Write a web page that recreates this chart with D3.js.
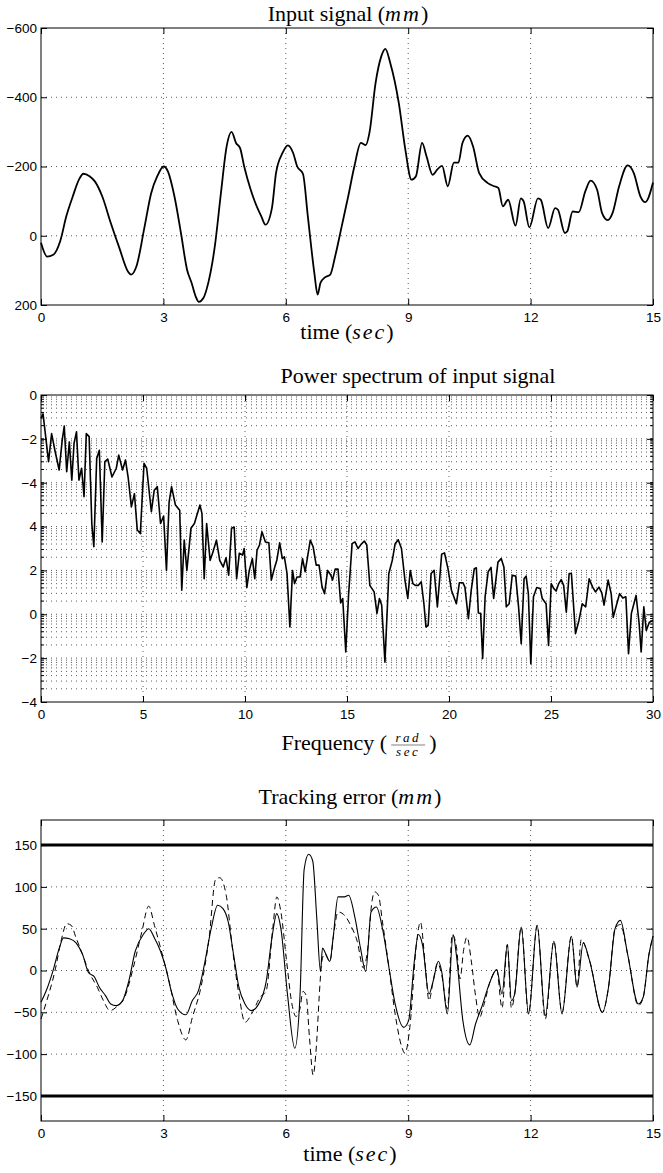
<!DOCTYPE html>
<html><head><meta charset="utf-8">
<script src="https://cdn.jsdelivr.net/npm/d3@7"></script>
<style>
body{margin:0;background:#fff}
svg{display:block}
</style></head>
<body>
<script>
// ---------------- DATA ----------------
const timeTicks = [0, 3, 6, 9, 12, 15];

// Panel 1: input signal (mm)
const inputTicks = [-600, -400, -200, 0, 200];
const inputTime = [0,0.15,0.3,0.47,0.62,0.78,0.93,1.04,1.19,1.32,
1.5,1.71,1.92,2.13,2.21,2.34,2.54,2.7,2.85,3.01,
3.11,3.27,3.43,3.58,3.69,3.79,3.87,3.98,4.1,4.26,
4.41,4.55,4.67,4.78,4.88,4.98,5.14,5.24,5.4,5.5,
5.66,5.76,5.92,6.05,6.18,6.28,6.42,6.54,6.7,6.78,
6.85,6.96,7.09,7.21,7.37,7.53,7.68,7.84,7.96,8.05,
8.2,8.34,8.44,8.56,8.77,8.93,9.08,9.19,9.34,9.45,
9.6,9.71,9.83,9.97,10.12,10.23,10.33,10.46,10.59,10.74,
10.95,11.11,11.21,11.32,11.45,11.63,11.76,11.83,11.97,12.18,
12.25,12.43,12.6,12.67,12.84,12.9,13.03,13.18,13.34,13.47,
13.63,13.75,13.89,14.01,14.17,14.38,14.53,14.69,14.81,15];
const inputValue = [20,60,55,16,-56,-114,-162,-179,-172,-157,
-114,-37,35,103,112,88,-27,-123,-172,-200,
-186,-114,-8,98,136,175,191,180,136,31,
-123,-258,-300,-268,-253,-200,-133,-99,-56,-32,
-80,-181,-239,-261,-239,-200,-179,-56,108,170,
136,120,112,59,-27,-114,-200,-268,-262,-297,
-441,-518,-540,-499,-383,-249,-162,-172,-268,-229,
-176,-191,-202,-143,-211,-211,-268,-289,-258,-181,
-152,-143,-138,-85,-104,-29,-108,-99,-24,-108,
-104,-22,-80,-75,-8,-13,-70,-68,-128,-159,
-133,-66,-45,-66,-143,-203,-181,-114,-97,-154];

// Panel 2: power spectrum (value given as decade exponent above the bottom of the axis)
const freqTicks = [0, 5, 10, 15, 20, 25, 30];
const powerTickLabels = ["\u22124","\u22122","0","2","4","\u22124","\u22122","0"]; // bottom -> top decades
const freq = [0,0.1,0.23,0.37,0.52,0.68,0.89,1.04,1.14,1.26,
1.39,1.51,1.62,1.74,1.86,1.99,2.11,2.22,2.36,2.49,
2.59,2.73,2.86,3.0,3.13,3.27,3.48,3.69,3.81,4.0,
4.14,4.27,4.43,4.58,4.72,4.87,5.05,5.18,5.41,5.55,
5.7,5.86,6.01,6.15,6.28,6.4,6.59,6.8,6.9,7.02,
7.15,7.35,7.52,7.79,7.89,8.0,8.12,8.29,8.41,8.6,
8.76,8.93,9.07,9.2,9.34,9.47,9.59,9.72,9.88,9.96,
10.09,10.21,10.36,10.48,10.59,10.71,10.83,11.0,11.17,11.29,
11.46,11.56,11.7,11.83,11.93,12.06,12.2,12.33,12.43,12.55,
12.7,12.82,12.95,13.2,13.34,13.49,13.63,13.78,13.9,14.05,
14.21,14.29,14.42,14.56,14.69,14.79,14.94,15.08,15.25,15.39,
15.54,15.7,15.85,15.97,16.12,16.33,16.47,16.59,16.7,16.86,
17.05,17.22,17.36,17.51,17.67,17.84,17.98,18.1,18.23,18.35,
18.5,18.64,18.77,18.87,18.98,19.12,19.27,19.43,19.64,19.78,
19.95,20.12,20.36,20.51,20.68,20.78,20.95,21.09,21.24,21.34,
21.44,21.55,21.65,21.77,21.92,22.06,22.19,22.4,22.56,22.69,
22.81,22.95,23.1,23.27,23.41,23.54,23.68,23.78,23.89,24.01,
24.14,24.3,24.47,24.57,24.76,24.88,25.01,25.13,25.25,25.38,
25.5,25.62,25.75,25.89,26.0,26.2,26.37,26.53,26.7,26.87,
27.04,27.18,27.35,27.49,27.6,27.8,27.95,28.05,28.21,28.36,
28.52,28.67,28.8,28.94,29.17,29.32,29.42,29.55,29.67,29.82,
30];
const powerExp = [6.47,6.57,6.05,5.48,6.12,5.74,5.29,5.97,6.29,5.25,
5.93,5.06,5.9,6.16,5.06,5.33,4.68,6.12,6.05,4.07,
3.54,5.55,5.74,3.65,5.48,5.54,5.13,5.33,5.63,5.29,
5.52,5.13,4.45,4.75,3.92,3.84,5.44,5.33,4.34,4.83,
4.91,4.07,4.24,3.0,4.56,4.91,4.49,4.37,2.55,3.69,
3.0,3.96,4.07,4.49,4.3,2.81,4.07,3.23,3.39,3.69,
3.23,3.08,3.29,2.89,3.96,3.99,2.81,3.39,3.35,3.5,
2.61,3.0,3.27,2.81,3.46,3.58,3.88,3.65,3.63,2.78,
3.08,3.23,3.63,3.27,3.31,2.93,1.71,3.0,2.7,2.85,
2.85,3.27,2.97,3.69,3.54,3.12,3.12,2.62,2.47,3.0,
2.89,2.78,3.03,3.03,2.26,2.36,1.14,2.47,3.61,3.65,
3.5,3.6,3.67,3.58,2.66,2.51,2.02,2.36,2.21,0.91,
2.93,3.23,3.61,3.7,3.5,2.78,2.36,3.0,2.7,2.66,
2.66,2.74,2.24,1.71,1.75,2.93,3.0,2.17,3.37,3.4,
3.04,2.55,2.24,2.72,2.72,2.62,1.9,2.55,3.04,3.06,
2.03,2.02,0.99,2.4,2.97,3.07,2.36,3.19,3.27,3.08,
2.17,2.24,2.89,2.87,2.17,1.33,2.81,2.87,2.47,0.87,
2.4,2.61,2.59,2.36,2.24,1.29,2.7,2.59,2.53,2.7,
2.79,2.66,2.05,2.93,2.93,1.56,1.86,2.24,2.17,2.81,
2.62,2.51,2.62,2.49,2.21,2.78,2.47,1.93,2.21,2.47,
2.37,2.4,1.1,2.02,2.43,1.79,1.14,2.17,1.63,1.82,
1.86];

// Panel 3: tracking error (mm)
const errTicks = [-150, -100, -50, 0, 50, 100, 150];
const errLimits = [150, -150];
const errTime = [0,0.13,0.29,0.45,0.55,0.7,0.86,1.02,1.17,1.3,
1.43,1.58,1.71,1.84,2.0,2.15,2.31,2.52,2.64,2.78,
2.93,3.06,3.19,3.35,3.55,3.71,3.86,4.02,4.17,4.33,
4.46,4.59,4.72,4.85,5.0,5.16,5.31,5.52,5.66,5.78,
5.88,6.04,6.22,6.35,6.45,6.56,6.66,6.76,6.85,6.9,
6.97,7.08,7.16,7.28,7.44,7.54,7.7,7.83,7.96,8.09,
8.22,8.37,8.53,8.68,8.89,9.01,9.15,9.25,9.35,9.51,
9.61,9.74,9.82,9.96,10.1,10.18,10.34,10.51,10.65,10.8,
11.01,11.17,11.3,11.43,11.53,11.61,11.77,11.95,12.16,12.36,
12.57,12.77,13.0,13.14,13.29,13.45,13.76,13.91,14.07,14.2,
14.38,14.64,14.76,14.9,15];
const errSolid = [-38,-24,-1,27,39,38,33,19,-3,-7,
-20,-30,-40,-42,-36,-13,23,44,50,39,
23,3,-24,-46,-53,-36,-24,11,50,78,
74,58,19,-20,-40,-48,-42,-13,39,68,
50,-28,-93,-28,121,139,131,62,-1,27,
21,11,39,88,88,90,62,27,-1,70,
76,50,3,-40,-68,-60,11,43,31,-28,
-13,11,-1,-52,43,19,-60,-89,-64,-44,
-13,1,-28,31,-36,-28,52,-52,54,-54,
35,-52,41,-20,33,11,-50,-20,50,60,
19,-40,-32,19,41];
const errTimeDashed = [0,0.13,0.34,0.5,0.63,0.74,0.86,1.02,1.17,1.38,
1.53,1.69,1.84,2.05,2.26,2.47,2.64,2.78,2.93,3.14,
3.35,3.55,3.71,3.92,4.12,4.28,4.38,4.54,4.69,4.85,
5.0,5.16,5.37,5.52,5.68,5.78,5.88,6.02,6.15,6.25,
6.35,6.42,6.5,6.58,6.67,6.75,6.82,6.88,6.95,7.08,
7.18,7.28,7.44,7.59,7.75,7.9,8.01,8.11,8.18,8.27,
8.37,8.53,8.68,8.84,8.92,9.04,9.2,9.3,9.41,9.51,
9.61,9.72,9.82,9.96,10.08,10.18,10.27,10.36,10.44,10.55,
10.65,10.75,10.85,11.01,11.17,11.3,11.43,11.53,11.61,11.77,
11.95,12.16,12.36,12.57,12.77,13.0,13.14,13.24,13.45,13.76,
13.91,14.07,14.2,14.38,14.64,14.76,14.9,15];
const errDashed = [-58,-38,-1,37,56,54,39,19,-1,-20,
-36,-48,-44,-32,3,46,77,54,27,-13,
-60,-83,-56,-20,39,109,111,90,27,-28,
-62,-52,-32,-24,50,88,70,11,-40,-55,
-45,-25,-30,-80,-125,-90,-30,10,20,11,
46,70,66,54,35,3,27,82,94,90,
58,3,-52,-91,-99,-68,31,58,11,-36,
-13,9,-5,-46,43,29,-10,25,40,10,
-30,-56,-42,-13,1,-45,31,-45,-28,52,
-52,54,-58,35,-50,41,-20,37,11,-50,
-20,50,55,19,-42,-32,19,41];

// ---------------- LAYOUT ----------------
const W = 663, H = 1173;
const L = 41, R = 653;
const TICK_FONT = "'Liberation Sans', Arial, Helvetica, sans-serif";
const SERIF = "'Liberation Serif', 'Times New Roman', Times, serif";
const TITLE_SIZE = 22;

const svg = d3.select("body").append("svg").attr("width", W).attr("height", H);

function dottedH(g, x, yPix) {
  g.append("line").attr("x1", x.range()[0]).attr("x2", x.range()[1])
    .attr("y1", yPix).attr("y2", yPix)
    .attr("stroke", "#333").attr("stroke-width", 0.8)
    .attr("stroke-dasharray", "1,4");
}
function dottedV(g, y, xPix) {
  g.append("line").attr("x1", xPix).attr("x2", xPix)
    .attr("y1", y.range()[0]).attr("y2", y.range()[1])
    .attr("stroke", "#333").attr("stroke-width", 0.8)
    .attr("stroke-dasharray", "1,4");
}

function axes(g, x, y, xTicks, yTicks, yFmt, top, bottom) {
  const styleAxis = sel => {
    sel.select(".domain").remove();
    sel.selectAll("line").attr("stroke", "#000").attr("stroke-width", 1);
    sel.selectAll("text").attr("font-family", TICK_FONT).attr("font-size", 13.5).attr("fill", "#000");
  };
  g.append("g").attr("transform", `translate(0,${bottom})`)
    .call(d3.axisBottom(x).tickValues(xTicks).tickSize(-6).tickPadding(7).tickFormat(d3.format("d")))
    .call(styleAxis);
  g.append("g").attr("transform", `translate(0,${top})`)
    .call(d3.axisTop(x).tickValues(xTicks).tickSize(-6).tickFormat(""))
    .call(styleAxis);
  g.append("g").attr("transform", `translate(${L},0)`)
    .call(d3.axisLeft(y).tickValues(yTicks).tickSize(-6).tickPadding(4).tickFormat(yFmt))
    .call(styleAxis);
  g.append("g").attr("transform", `translate(${R},0)`)
    .call(d3.axisRight(y).tickValues(yTicks).tickSize(-6).tickFormat(""))
    .call(styleAxis);
  g.append("rect").attr("x", L).attr("y", top).attr("width", R - L).attr("height", bottom - top)
    .attr("fill", "none").attr("stroke", "#000").attr("stroke-width", 1);
}

const minusFmt = d => (d < 0 ? "\u2212" + Math.abs(d) : String(d));

function mathTitle(parts, x, y, size) {
  const t = svg.append("text").attr("x", x).attr("y", y).attr("text-anchor", "middle")
    .attr("font-family", SERIF).attr("font-size", size).attr("fill", "#000");
  parts.forEach(p => {
    const s = t.append("tspan").text(p[0]);
    if (p[1]) s.attr("font-style", "italic").attr("letter-spacing", "2px");
  });
  return t;
}

// ---------------- PANEL 1 ----------------
{
  const top = 28, bottom = 305;
  const x = d3.scaleLinear().domain([0, 15]).range([L, R]);
  const y = d3.scaleLinear().domain([-600, 200]).range([top, bottom]);
  const g = svg.append("g");
  timeTicks.slice(1, -1).forEach(t => dottedV(g, y, x(t)));
  inputTicks.slice(1, -1).forEach(v => dottedH(g, x, y(v)));
  axes(g, x, y, timeTicks, inputTicks, minusFmt, top, bottom);
  const line = d3.line().x((d, i) => x(inputTime[i])).y(d => y(d)).curve(d3.curveMonotoneX);
  g.append("path").datum(inputValue).attr("d", line).attr("fill", "none")
    .attr("stroke", "#000").attr("stroke-width", 1.8).attr("stroke-linejoin", "round");
  mathTitle([["Input signal ("], ["mm", true], [")"]], 348, 21, TITLE_SIZE);
  mathTitle([["time ("], ["sec", true], [")"]], 347, 339, TITLE_SIZE);
}

// ---------------- PANEL 2 ----------------
{
  const top = 395, bottom = 702;
  const x = d3.scaleLinear().domain([0, 30]).range([L, R]);
  const y = d3.scaleLog().domain([1, 1e7]).range([bottom, top]);
  const g = svg.append("g");
  const decades = d3.range(0, 8).map(k => Math.pow(10, k));
  const minor = y.ticks().filter(v => v > 1 && v < 1e7);
  minor.forEach(v => dottedH(g, x, y(v)));
  freqTicks.slice(1, -1).forEach(f => dottedV(g, y, x(f)));
  minor.forEach(v => {
    g.append("line").attr("x1", L).attr("x2", L + 3).attr("y1", y(v)).attr("y2", y(v)).attr("stroke", "#000");
    g.append("line").attr("x1", R - 3).attr("x2", R).attr("y1", y(v)).attr("y2", y(v)).attr("stroke", "#000");
  });
  axes(g, x, y, freqTicks, decades, d => powerTickLabels[Math.round(Math.log10(d))], top, bottom);
  const line = d3.line().x((d, i) => x(freq[i])).y(d => y(Math.pow(10, d)));
  g.append("path").datum(powerExp).attr("d", line).attr("fill", "none")
    .attr("stroke", "#000").attr("stroke-width", 1.6).attr("stroke-linejoin", "round");
  mathTitle([["Power spectrum of input signal"]], 418, 383, TITLE_SIZE);

  // Frequency ( rad / sec )
  const fy = 750;
  const lbl = svg.append("g");
  const t1 = lbl.append("text").attr("x", 0).attr("y", fy)
    .attr("font-family", SERIF).attr("font-size", TITLE_SIZE).text("Frequency (");
  const w1 = t1.node().getComputedTextLength();
  const fracW = 34, gap = 4;
  const fcx = w1 + gap + fracW / 2;
  lbl.append("text").attr("x", fcx).attr("y", fy - 8).attr("text-anchor", "middle")
    .attr("font-family", SERIF).attr("font-size", 13).attr("font-style", "italic")
    .attr("letter-spacing", "2.5px").text("rad");
  lbl.append("line").attr("x1", w1 + gap).attr("x2", w1 + gap + fracW).attr("y1", fy - 5).attr("y2", fy - 5)
    .attr("stroke", "#000").attr("stroke-width", 0.5);
  lbl.append("text").attr("x", fcx).attr("y", fy + 6).attr("text-anchor", "middle")
    .attr("font-family", SERIF).attr("font-size", 13).attr("font-style", "italic")
    .attr("letter-spacing", "2.5px").text("sec");
  const t3 = lbl.append("text").attr("x", w1 + gap * 2 + fracW).attr("y", fy)
    .attr("font-family", SERIF).attr("font-size", TITLE_SIZE).text(")");
  const total = w1 + gap * 2 + fracW + t3.node().getComputedTextLength();
  lbl.attr("transform", `translate(${359 - total / 2},0)`);
}

// ---------------- PANEL 3 ----------------
{
  const top = 820, bottom = 1121;
  const x = d3.scaleLinear().domain([0, 15]).range([L, R]);
  const y = d3.scaleLinear().domain([-180, 180]).range([bottom, top]);
  const g = svg.append("g");
  timeTicks.slice(1, -1).forEach(t => dottedV(g, y, x(t)));
  errTicks.forEach(v => dottedH(g, x, y(v)));
  axes(g, x, y, timeTicks, errTicks, minusFmt, top, bottom);
  errLimits.forEach(v => {
    g.append("line").attr("x1", L).attr("x2", R).attr("y1", y(v)).attr("y2", y(v))
      .attr("stroke", "#000").attr("stroke-width", 3);
  });
  const solid = d3.line().x((d, i) => x(errTime[i])).y(d => y(d)).curve(d3.curveMonotoneX);
  const dashed = d3.line().x((d, i) => x(errTimeDashed[i])).y(d => y(d)).curve(d3.curveMonotoneX);
  g.append("path").datum(errDashed).attr("d", dashed).attr("fill", "none")
    .attr("stroke", "#000").attr("stroke-width", 1).attr("stroke-dasharray", "6,4");
  g.append("path").datum(errSolid).attr("d", solid).attr("fill", "none")
    .attr("stroke", "#000").attr("stroke-width", 1.1);
  mathTitle([["Tracking error ("], ["mm", true], [")"]], 350, 804, TITLE_SIZE);
  mathTitle([["time ("], ["sec", true], [")"]], 350, 1161, TITLE_SIZE);
}
</script>
</body></html>
